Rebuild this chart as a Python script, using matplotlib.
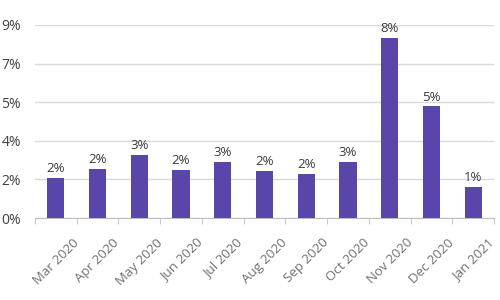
import matplotlib as mpl
import matplotlib.pyplot as plt
from matplotlib.ticker import FuncFormatter
import numpy as np

mpl.rcParams['font.family'] = ['Open Sans', 'DejaVu Sans']

# monthly share
months = ['Mar 2020', 'Apr 2020', 'May 2020', 'Jun 2020', 'Jul 2020', 'Aug 2020',
          'Sep 2020', 'Oct 2020', 'Nov 2020', 'Dec 2020', 'Jan 2021']
share = [0.0187, 0.0229, 0.0294, 0.0224, 0.026, 0.022, 0.0205, 0.026, 0.084, 0.052, 0.0145]
yticks = [0, 0.018, 0.036, 0.054, 0.072, 0.09]

bar_color = '#5a45ab'
grid_color = '#d9d9d9'

fig = plt.figure(figsize=(5, 3), dpi=100)
ax = fig.add_axes([0.07, 0.273, 0.918, 0.644])

x = np.arange(len(months))
ax.bar(x, share, width=0.41, color=bar_color, zorder=3)

for xi, v in zip(x, share):
    ax.text(xi, v + 0.0013, '{:.0%}'.format(v), ha='center', va='bottom',
            fontsize=9.5, color='#3a3a3a', zorder=4)

ax.set_xlim(-0.5, len(months) - 0.5)
ax.set_ylim(0, 0.09)
ax.set_yticks(yticks)
ax.yaxis.set_major_formatter(FuncFormatter(lambda v, p: '{:.0%}'.format(v)))
ax.grid(axis='y', color=grid_color, lw=1, zorder=0)

ax.set_xticks(x)
ax.set_xticklabels(months, rotation=45, ha='center', va='top',
                   fontsize=9.5, color='#707070')
ax.set_xticks(np.arange(-0.5, len(months)), minor=True)
ax.tick_params(axis='x', which='major', length=0, pad=13)
ax.tick_params(axis='x', which='minor', length=4, color='#bfbfbf')
ax.tick_params(axis='y', length=0, labelsize=10, labelcolor='#404040', pad=10)

for s in ['top', 'right', 'left']:
    ax.spines[s].set_visible(False)
ax.spines['bottom'].set_color('#bfbfbf')

fig.savefig('out.png')
